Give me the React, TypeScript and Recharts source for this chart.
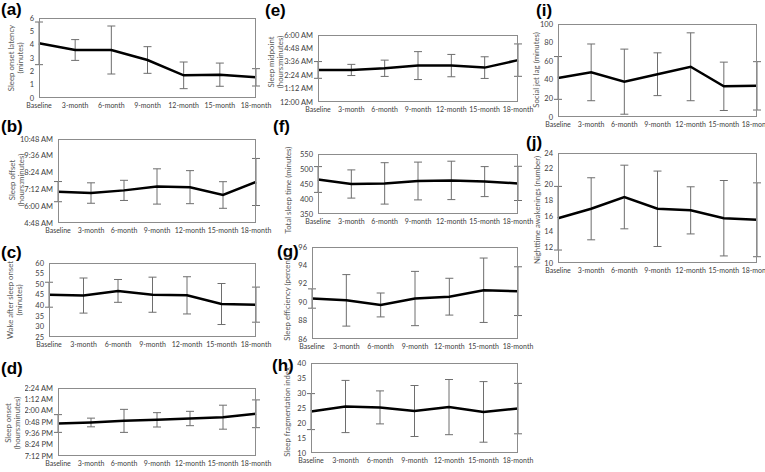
import React from 'react';
import { ComposedChart, Line, XAxis, YAxis, ErrorBar } from 'recharts';

const categories = ['Baseline', '3-month', '6-month', '9-month', '12-month', '15-month', '18-month'];

// (a) Sleep onset latency (minutes)
const latencyMean = [4.1, 3.6, 3.6, 2.85, 1.7, 1.75, 1.55];
const latencyErr = [1.6, 0.78, 1.8, 1.0, 1.0, 0.87, 0.65];
// (b) Sleep offset (hours)
const offsetMean = [7.04, 6.94, 7.13, 7.41, 7.36, 6.8, 7.73];
const offsetErr = [0.72, 0.73, 0.72, 1.26, 1.18, 0.95, 1.68];
// (c) Wake after sleep onset (minutes)
const wasoMean = [45.0, 44.6, 46.8, 45.0, 44.7, 40.6, 40.3];
const wasoErr = [5.9, 8.3, 5.4, 8.3, 8.8, 9.7, 8.3];
// (d) Sleep onset (hours, >24 = after midnight)
const onsetMean = [22.64, 22.75, 22.92, 23.03, 23.17, 23.31, 23.67];
const onsetErr = [0.94, 0.46, 1.22, 0.76, 0.76, 1.27, 1.47];
// (e) Sleep midpoint (hours)
const midMean = [2.87, 2.87, 3.02, 3.26, 3.26, 3.08, 3.75];
const midErr = [0.75, 0.5, 0.73, 1.25, 1.0, 0.97, 1.45];
// (f) Total sleep time (minutes)
const tstMean = [465, 450, 452, 460, 462, 458, 452];
const tstErr = [43, 47, 69, 63, 64, 50, 57];
// (g) Sleep efficiency (percent)
const effMean = [90.4, 90.2, 89.7, 90.4, 90.6, 91.3, 91.2];
const effErr = [1.05, 2.8, 1.3, 2.95, 2.0, 3.5, 2.65];
// (h) Sleep fragmentation index
const sfiMean = [23.8, 25.5, 25.2, 24.0, 25.3, 23.7, 24.8];
const sfiErr = [6.0, 8.7, 5.5, 8.5, 9.2, 10.1, 8.4];
// (i) Social jet lag (minutes)
const sjlMean = [42, 48, 38, 46, 54, 33, 33.5];
const sjlErr = [23, 30.5, 35, 23, 36.5, 26, 26];
// (j) Nighttime awakenings (number)
const nawMean = [15.7, 16.9, 18.4, 16.9, 16.7, 15.7, 15.5];
const nawErr = [4.05, 3.95, 4.05, 4.8, 3.0, 4.8, 4.7];

const ticksA = [0, 1, 2, 3, 4, 5, 6];
const ticksB = [4.8, 6, 7.2, 8.4, 9.6, 10.8];
const ticksC = [25, 30, 35, 40, 45, 50, 55, 60];
const ticksD = [19.2, 20.4, 21.6, 22.8, 24, 25.2, 26.4];
const ticksE = [0, 1.2, 2.4, 3.6, 4.8, 6];
const ticksF = [350, 400, 450, 500, 550];
const ticksG = [86, 88, 90, 92, 94, 96];
const ticksH = [10, 15, 20, 25, 30, 35, 40];
const ticksI = [0, 20, 40, 60, 80, 100];
const ticksJ = [10, 12, 14, 16, 18, 20, 22, 24];

const FONT = "Lato, 'DejaVu Sans Condensed', sans-serif";

function fmtTime(h: number): string {
  let m = Math.round(h * 60);
  m = ((m % 1440) + 1440) % 1440;
  const H = Math.floor(m / 60);
  const M = m % 60;
  const ap = H < 12 ? 'AM' : 'PM';
  const h12 = H % 12 === 0 ? 12 : H % 12;
  return `${h12}:${String(M).padStart(2, '0')} ${ap}`;
}

type Box = { l: number; t: number; r: number; b: number };

type PanelProps = {
  label: string;
  labelPos: [number, number];
  title: string[];
  titlePos: [number, number];
  box: Box;
  mean: number[];
  err: number[];
  ticks: number[];
  time?: boolean;
  clipLeft?: number;
};

const YW = 80;
const MT = 6;
const MR = 22;
const XH = 20;

function Panel(p: PanelProps) {
  const data = categories.map((c, i) => ({ cat: c, mean: p.mean[i], err: p.err[i] }));
  const bw = p.box.r - p.box.l;
  const bh = p.box.b - p.box.t;
  const chartLeft = p.box.l - YW;
  const chartTop = p.box.t - MT;
  const width = bw + YW + MR;
  const height = bh + MT + XH;
  const outerLeft = p.clipLeft !== undefined ? Math.max(chartLeft, p.clipLeft) : chartLeft;
  const domain: [number, number] = [p.ticks[0], p.ticks[p.ticks.length - 1]];
  return (
    <>
      <div style={{ position: 'absolute', left: p.labelPos[0], top: p.labelPos[1], fontFamily: "'Liberation Sans', Arial, sans-serif", fontWeight: 'bold', fontSize: 17, lineHeight: '17px', color: '#000' }}>
        {p.label}
      </div>
      <div
        style={{
          position: 'absolute',
          left: p.titlePos[0],
          top: p.titlePos[1],
          transform: 'translate(-50%, -50%) rotate(-90deg)',
          whiteSpace: 'nowrap',
          textAlign: 'center',
          fontFamily: FONT,
          fontSize: 7.8,
          lineHeight: '9px',
          color: '#595959',
        }}
      >
        {p.title.map((s, i) => (
          <div key={i}>{s}</div>
        ))}
      </div>
      <div style={{ position: 'absolute', left: outerLeft, top: chartTop, width: width - (outerLeft - chartLeft), height, overflow: 'hidden' }}>
        <div style={{ position: 'absolute', left: chartLeft - outerLeft, top: 0 }}>
          <ComposedChart width={width} height={height} data={data} margin={{ top: MT, right: MR, left: 0, bottom: 0 }}>
            <XAxis
              dataKey="cat"
              interval={0}
              axisLine={false}
              tickLine={false}
              tickSize={0}
              tickMargin={5}
              height={XH}
              tick={{ fontSize: 7, fill: '#404040', fontFamily: FONT }}
            />
            <YAxis
              type="number"
              domain={domain}
              ticks={p.ticks}
              interval={0}
              allowDataOverflow
              axisLine={false}
              tickLine={false}
              tickSize={0}
              tickMargin={5}
              width={YW}
              tickFormatter={p.time ? fmtTime : undefined}
              tick={{ fontSize: 7.5, fill: '#404040', fontFamily: FONT }}
            />
            <Line dataKey="mean" stroke="#000" strokeWidth={2.5} dot={false} isAnimationActive={false}>
              <ErrorBar dataKey="err" direction="y" width={4} stroke="#6e6e6e" strokeWidth={1} isAnimationActive={false} />
            </Line>
          </ComposedChart>
        </div>
      </div>
      <div style={{ position: 'absolute', left: p.box.l, top: p.box.t, width: bw, height: bh, border: '1px solid #8c8c8c', boxSizing: 'border-box', pointerEvents: 'none' }} />
    </>
  );
}

export default function App() {
  return (
    <div style={{ position: 'absolute', left: 0, top: 0, width: 765, height: 472, background: '#fff', overflow: 'hidden' }}>
      <Panel label="(a)" labelPos={[1, 1]} title={['Sleep onset latency', '(minutes)']} titlePos={[16, 58]} box={{ l: 39, t: 18, r: 256, b: 98 }} mean={latencyMean} err={latencyErr} ticks={ticksA} />
      <Panel label="(b)" labelPos={[1, 118]} title={['Sleep offset', '(hours:minutes)']} titlePos={[17, 180]} box={{ l: 58, t: 139, r: 256, b: 223 }} mean={offsetMean} err={offsetErr} ticks={ticksB} time />
      <Panel label="(c)" labelPos={[1, 244]} title={['Wake after sleep onset', '(minutes)']} titlePos={[15, 300]} box={{ l: 49, t: 263, r: 256, b: 337 }} mean={wasoMean} err={wasoErr} ticks={ticksC} />
      <Panel label="(d)" labelPos={[1, 360]} title={['Sleep onset', '(hours:minutes)']} titlePos={[13, 423]} box={{ l: 58, t: 388, r: 256, b: 456 }} mean={onsetMean} err={onsetErr} ticks={ticksD} time clipLeft={25} />
      <Panel label="(e)" labelPos={[265, 2]} title={['Sleep midpoint', '(hours:minutes)']} titlePos={[276, 62]} box={{ l: 318, t: 35, r: 518, b: 102 }} mean={midMean} err={midErr} ticks={ticksE} time />
      <Panel label="(f)" labelPos={[273, 118]} title={['Total sleep time (minutes)']} titlePos={[288, 190]} box={{ l: 318, t: 154, r: 518, b: 214 }} mean={tstMean} err={tstErr} ticks={ticksF} />
      <Panel label="(g)" labelPos={[277, 243]} title={['Sleep efficiency (percent)']} titlePos={[287, 298]} box={{ l: 312, t: 247, r: 518, b: 339 }} mean={effMean} err={effErr} ticks={ticksG} />
      <Panel label="(h)" labelPos={[272, 357]} title={['Sleep fragmentation index']} titlePos={[287, 412]} box={{ l: 311, t: 363, r: 518, b: 453 }} mean={sfiMean} err={sfiErr} ticks={ticksH} />
      <Panel label="(i)" labelPos={[536, 2]} title={['Social jet lag (minutes)']} titlePos={[536, 70]} box={{ l: 558, t: 24, r: 757, b: 117 }} mean={sjlMean} err={sjlErr} ticks={ticksI} />
      <Panel label="(j)" labelPos={[526, 134]} title={['Nighttime awakenings (number)']} titlePos={[537, 210]} box={{ l: 558, t: 153, r: 757, b: 263 }} mean={nawMean} err={nawErr} ticks={ticksJ} />
    </div>
  );
}
